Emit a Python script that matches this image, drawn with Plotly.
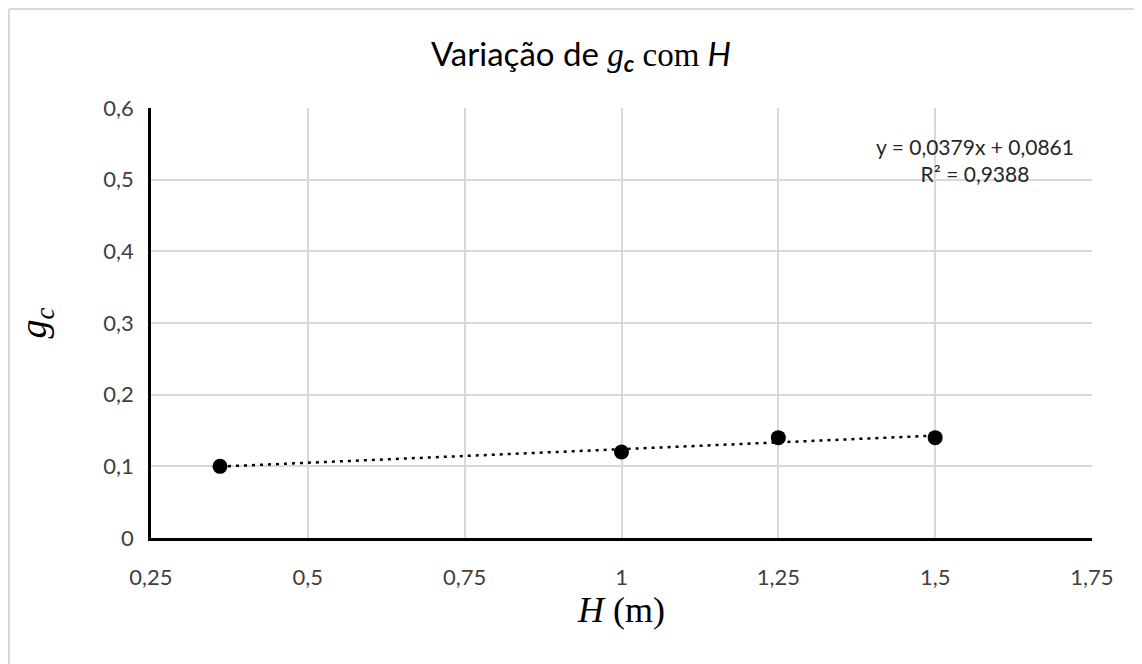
import plotly.graph_objects as go
import numpy as np

# dados
H = [0.36, 1.0, 1.25, 1.5]
gc = [0.10, 0.12, 0.14, 0.14]

x_ticks = [0.25, 0.5, 0.75, 1.0, 1.25, 1.5, 1.75]
y_ticks = [0, 0.1, 0.2, 0.3, 0.4, 0.5, 0.6]

# linha de tendência linear
slope, intercept = np.polyfit(H, gc, 1)
x_fit = np.array([min(H), max(H)])
y_fit = slope * x_fit + intercept
pred = slope * np.array(H) + intercept
r2 = 1 - np.sum((np.array(gc) - pred) ** 2) / np.sum((np.array(gc) - np.mean(gc)) ** 2)

W, Hpx = 1142, 664
ml, mr, mt, mb = 143, 58, 100, 134
pw = W - ml - mr
ph = Hpx - mt - mb

fig = go.Figure()

fig.add_trace(go.Scatter(
    x=x_fit, y=y_fit, mode='lines',
    line=dict(color='black', width=2.5, dash='3px,5px'),
    showlegend=False, hoverinfo='skip'
))

fig.add_trace(go.Scatter(
    x=H, y=gc, mode='markers',
    marker=dict(color='black', size=15),
    showlegend=False
))

def fmt(v):
    return f"{v:.4f}".replace('.', ',')

fig.add_annotation(
    x=(967 - ml) / pw, y=1 - (152 - mt) / ph, xref='paper', yref='paper',
    text=f"y = {fmt(slope)}x + {fmt(intercept)}<br>R² = {fmt(r2)}",
    showarrow=False, align='center', xanchor='center', yanchor='middle',
    font=dict(family='Lato, Open Sans, sans-serif', size=21, color='#262626')
)

# borda externa (só topo e esquerda visíveis)
bx0 = (1 - ml) / pw
by0 = 1 + (mt - 1) / ph
fig.add_shape(type='line', xref='paper', yref='paper', x0=bx0, x1=(W + 5 - ml) / pw, y0=by0, y1=by0,
              line=dict(color='#d9d9d9', width=2))
fig.add_shape(type='line', xref='paper', yref='paper', x0=bx0, x1=bx0, y0=by0, y1=-(mb + 5) / ph,
              line=dict(color='#d9d9d9', width=2))

title_html = ("Variação de "
              "<span style='font-family:Liberation Serif'><i>g</i></span>"
              "<sub><b><i>c</i></b></sub>"
              "<span style='font-family:Liberation Serif'> com </span>"
              "<i>H</i>")

fig.update_layout(
    width=W, height=Hpx,
    margin=dict(l=ml, r=mr, t=mt, b=mb),
    paper_bgcolor='white', plot_bgcolor='white',
    separators=', ',
    title=dict(text=title_html, x=573 / W, xref='container', xanchor='center',
               y=1 - 46 / Hpx, yref='container', yanchor='middle',
               font=dict(family='Lato, Open Sans, sans-serif', size=33, color='black')),
    font=dict(family='Lato, Open Sans, sans-serif', size=22, color='#404040'),
    xaxis=dict(
        range=[0.25, 1.75], tickvals=x_ticks,
        showgrid=True, gridcolor='#d9d9d9', gridwidth=1.5,
        showline=True, linecolor='black', linewidth=2.5,
        zeroline=False, ticks='', ticklabelstandoff=18,
        title=dict(text="<i>H</i> (m)", standoff=8,
                   font=dict(family='Liberation Serif, serif', size=36, color='black')),
    ),
    yaxis=dict(
        range=[0, 0.6], tickvals=y_ticks,
        showgrid=True, gridcolor='#d9d9d9', gridwidth=1.5,
        showline=True, linecolor='black', linewidth=2.5,
        zeroline=False, ticks='', ticklabelstandoff=10,
        title=dict(text="<i>g</i><sub><i>c</i></sub>", standoff=46,
                   font=dict(family='Liberation Serif, serif', size=38, color='black')),
    ),
)

fig.write_html("out.html")
